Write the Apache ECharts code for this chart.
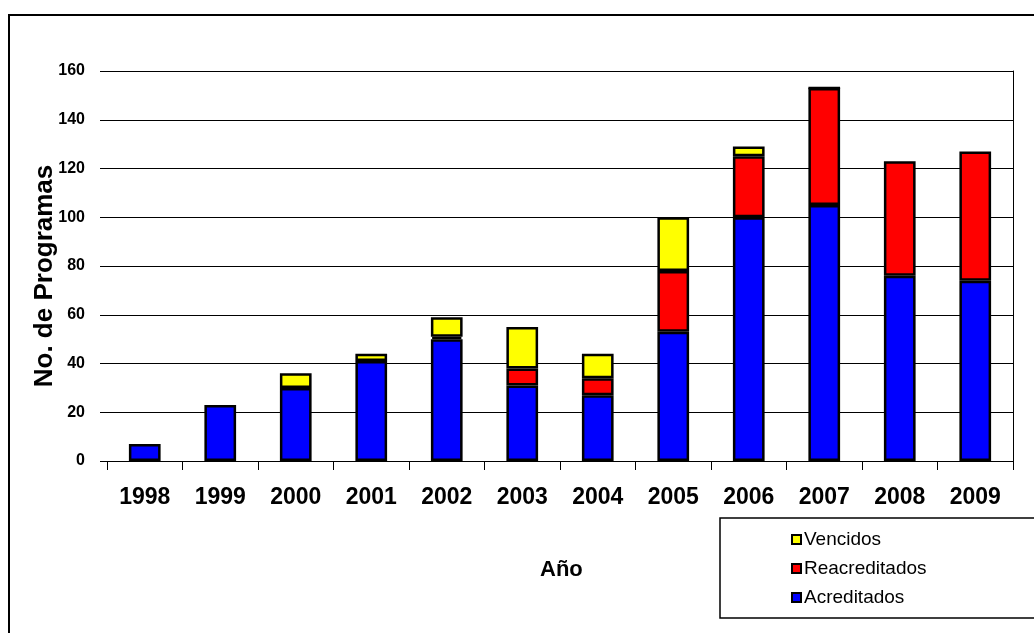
<!DOCTYPE html>
<html>
<head>
<meta charset="utf-8">
<script src="https://cdn.jsdelivr.net/npm/echarts@6/dist/echarts.min.js"></script>
<style>
html,body{margin:0;padding:0;background:#fff;}
#chart{width:1034px;height:633px;}
</style>
</head>
<body>
<div id="chart"></div>
<script>
var years = ['1998','1999','2000','2001','2002','2003','2004','2005','2006','2007','2008','2009'];
var acreditados   = [7, 23, 30, 41, 50, 31, 27, 53, 100, 105, 76, 74];
var reacreditados = [null, null, null, null, 1, 7, 7, 25, 25, 48, 47, 53];
var vencidos      = [null, null, 6, 3, 8, 17, 10, 22, 4, 0, null, null];
var seriesNames = ['Acreditados', 'Reacreditados', 'Vencidos'];
var legendOrder = ['Vencidos', 'Reacreditados', 'Acreditados'];
var yTicks = {min: 0, max: 160, interval: 20};
var yTitle = 'No. de Programas';
var xTitle = 'Año';

var FONT = '"Liberation Sans", Arial, sans-serif';
var chart = echarts.init(document.getElementById('chart'), null, {renderer: 'canvas'});

function bar(name, data, color) {
  return {
    name: name,
    type: 'bar',
    stack: 'total',
    barWidth: '42%',
    data: data.map(function (v) { return v === null ? '-' : v; }),
    itemStyle: {color: color, borderColor: '#000', borderWidth: 2.5},
    emphasis: {disabled: true}
  };
}

chart.setOption({
  animation: false,
  backgroundColor: '#fff',
  grid: {left: 107, right: 21, top: 71, bottom: 172, containLabel: false},
  xAxis: {
    type: 'category',
    data: years,
    boundaryGap: true,
    axisLine: {show: true, lineStyle: {color: '#000', width: 1}},
    axisTick: {show: true, length: 9, lineStyle: {color: '#000', width: 1}},
    axisLabel: {color: '#000', fontFamily: FONT, fontWeight: 'bold', fontSize: 23, margin: 25},
    splitLine: {show: false}
  },
  yAxis: [{
    type: 'value',
    min: yTicks.min, max: yTicks.max, interval: yTicks.interval,
    name: yTitle,
    nameLocation: 'middle',
    nameRotate: 90,
    nameGap: 49,
    nameMoveOverlap: false,
    nameTextStyle: {color: '#000', fontFamily: FONT, fontWeight: 'bold', fontSize: 26, padding: [0, 20, 0, 0]},
    axisLine: {show: false},
    axisTick: {show: true, length: 7, lineStyle: {color: '#000', width: 1}},
    axisLabel: {color: '#000', fontFamily: FONT, fontWeight: 'bold', fontSize: 16, margin: 22},
    splitLine: {show: true, lineStyle: {color: '#000', width: 1}}
  }, {
    type: 'value',
    position: 'right',
    min: yTicks.min, max: yTicks.max, interval: yTicks.interval,
    axisLine: {show: true, lineStyle: {color: '#000', width: 1}},
    axisTick: {show: false},
    axisLabel: {show: false},
    splitLine: {show: false}
  }],
  legend: {
    data: legendOrder,
    orient: 'vertical',
    left: 791,
    top: 530,
    padding: 0,
    itemWidth: 9,
    itemHeight: 9,
    itemGap: 10,
    icon: 'rect',
    selectedMode: false,
    textStyle: {color: '#000', fontFamily: FONT, fontSize: 19, padding: [0, 0, 0, -2]}
  },
  graphic: [
    {type: 'rect', shape: {x: 9, y: 15, width: 1200, height: 800}, style: {fill: 'none', stroke: '#000', lineWidth: 2}, silent: true, z: 100},
    {type: 'rect', shape: {x: 720, y: 518, width: 400, height: 100}, style: {fill: 'none', stroke: '#000', lineWidth: 1.5}, silent: true, z: 100},
    {type: 'text', left: 540, top: 559, style: {text: xTitle, fill: '#000', font: 'bold 22px ' + FONT, textAlign: 'center'}, silent: true}
  ],
  series: [
    bar(seriesNames[0], acreditados, '#0000FF'),
    bar(seriesNames[1], reacreditados, '#FF0000'),
    bar(seriesNames[2], vencidos, '#FFFF00')
  ]
});
</script>
</body>
</html>
